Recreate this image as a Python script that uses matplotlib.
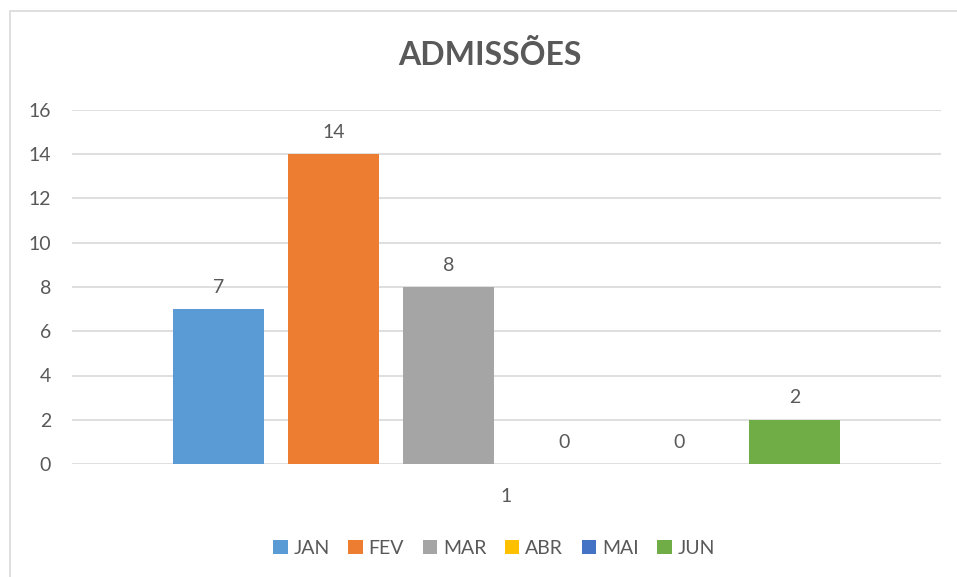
import matplotlib.pyplot as plt
from matplotlib.patches import Rectangle

months = ["JAN", "FEV", "MAR", "ABR", "MAI", "JUN"]
values = [7, 14, 8, 0, 0, 2]
colors = ["#5B9BD5", "#ED7D31", "#A5A5A5", "#FFC000", "#4472C4", "#70AD47"]
yticks = [0, 2, 4, 6, 8, 10, 12, 14, 16]
category = "1"

TEXT = "#595959"
GRID = "#D9D9D9"

plt.rcParams['font.family'] = ['Lato', 'DejaVu Sans']

W, H = 957, 577
fig = plt.figure(figsize=(W / 100, H / 100), dpi=100)

# chart frame (right/bottom edges fall outside the picture)
fig.patches.append(Rectangle((10 / W, -0.1), 1.2, 1.1 - 11 / H,
                             transform=fig.transFigure, fill=False,
                             edgecolor=GRID, linewidth=1.2))

ax = fig.add_axes([72 / W, 1 - 464 / H, (941 - 72) / W, (464 - 110) / H])

step = 115.3 / 869
width = 91 / 869
for i, (m, v, c) in enumerate(zip(months, values, colors)):
    x = (i - 2.5) * step
    ax.bar(x, v, width=width, color=c, label=m, zorder=3)
    ax.text(x, v + 0.6, str(v), ha='center', va='bottom',
            fontsize=14, color=TEXT)

ax.set_xlim(-0.5, 0.5)
ax.set_ylim(0, 16)
ax.set_yticks(yticks)
ax.set_yticklabels([str(t) for t in yticks], fontsize=14, color=TEXT)
ax.set_xticks([0])
ax.set_xticklabels([category], fontsize=14, color=TEXT)
ax.tick_params(axis='both', length=0)
ax.tick_params(axis='y', pad=15)
ax.tick_params(axis='x', pad=17)
ax.grid(axis='y', color=GRID, linewidth=1.2, zorder=0)
for s in ax.spines.values():
    s.set_visible(False)

fig.text(490 / W, 1 - 55 / H, "ADMISSÕES", ha='center', va='center',
         fontsize=23, fontweight='bold', color=TEXT)

fig.legend(loc='center', bbox_to_anchor=(494 / W, 1 - 548 / H), ncol=6,
           frameon=False, fontsize=14, labelcolor=TEXT, handlelength=0.75,
           handleheight=0.75, handletextpad=0.3, columnspacing=0.95)

fig.savefig("out.png", dpi=100)
